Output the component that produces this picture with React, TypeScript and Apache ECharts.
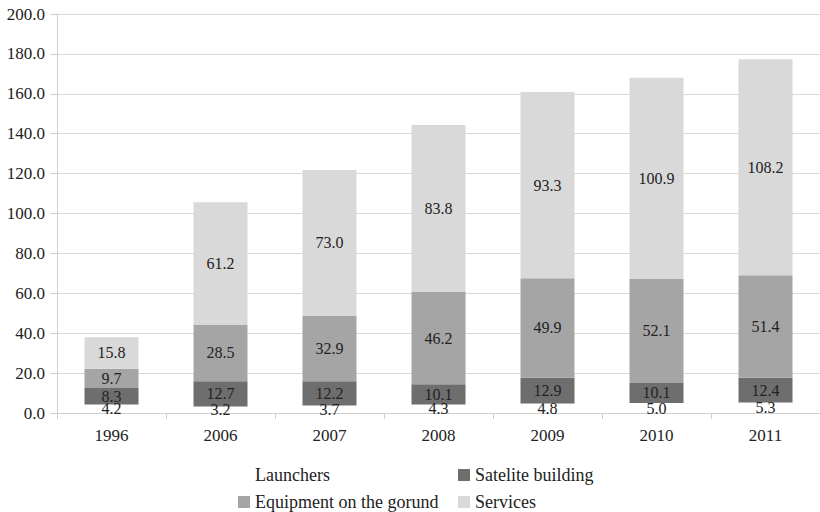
import React, { useEffect, useRef } from "react";
import * as echarts from "echarts";

const years = ["1996", "2006", "2007", "2008", "2009", "2010", "2011"];
const launchers = [4.2, 3.2, 3.7, 4.3, 4.8, 5.0, 5.3];
const sateliteBuilding = [8.3, 12.7, 12.2, 10.1, 12.9, 10.1, 12.4];
const equipmentOnGround = [9.7, 28.5, 32.9, 46.2, 49.9, 52.1, 51.4];
const services = [15.8, 61.2, 73.0, 83.8, 93.3, 100.9, 108.2];

const FONT = "Liberation Serif";

// The thin white "Launchers" segment carries its label a touch lower so it
// sits across the zero line instead of running into the segment above it.
const seriesDefs = [
  { name: "Launchers", data: launchers, color: "#ffffff", labelOffset: [0, 2] },
  { name: "Satelite building", data: sateliteBuilding, color: "#6e6e6e", labelOffset: [0, 0] },
  { name: "Equipment on the gorund", data: equipmentOnGround, color: "#a5a5a5", labelOffset: [0, 0] },
  { name: "Services", data: services, color: "#d9d9d9", labelOffset: [0, 0] },
];

const legendText = { fontFamily: FONT, fontSize: 18, lineHeight: 18, color: "#222" };

const legendBase = {
  orient: "vertical",
  top: 466,
  height: 60,
  padding: 0,
  itemWidth: 12,
  itemHeight: 12,
  itemGap: 9,
  icon: "rect",
  textStyle: legendText,
};

export default function App() {
  const ref = useRef<HTMLDivElement>(null);

  useEffect(() => {
    if (!ref.current) return;
    const chart = echarts.init(ref.current, undefined, { renderer: "svg" });
    chart.setOption({
      animation: false,
      backgroundColor: "#ffffff",
      textStyle: { fontFamily: FONT },
      grid: { left: 57, top: 14, width: 770, height: 399 },
      legend: [
        { ...legendBase, left: 238, data: ["Launchers", "Equipment on the gorund"] },
        { ...legendBase, left: 458, data: ["Satelite building", "Services"] },
      ],
      xAxis: {
        type: "category",
        data: years,
        axisLine: { lineStyle: { color: "#cfcfcf", width: 1 } },
        axisTick: { show: true, length: 6, lineStyle: { color: "#cfcfcf" } },
        axisLabel: { fontFamily: FONT, fontSize: 17, color: "#222", margin: 14 },
      },
      yAxis: {
        type: "value",
        min: 0,
        max: 200,
        interval: 20,
        axisLine: { show: true, lineStyle: { color: "#cfcfcf" } },
        axisTick: { show: true, length: 7, lineStyle: { color: "#cfcfcf" } },
        splitLine: { lineStyle: { color: "#d9d9d9" } },
        axisLabel: {
          fontFamily: FONT,
          fontSize: 17,
          color: "#222",
          margin: 12,
          formatter: (v: number) => v.toFixed(1),
        },
      },
      series: seriesDefs.map((s) => ({
        name: s.name,
        type: "bar",
        stack: "total",
        barWidth: 54,
        data: s.data,
        itemStyle: { color: s.color },
        label: {
          show: true,
          position: "inside",
          offset: s.labelOffset,
          fontFamily: FONT,
          fontSize: 16,
          lineHeight: 12,
          color: "#222",
          formatter: (p: any) => Number(p.value).toFixed(1),
        },
        labelLayout: { hideOverlap: false },
      })),
    });
    return () => chart.dispose();
  }, []);

  return <div ref={ref} style={{ width: 820, height: 512, position: "absolute", left: 0, top: 0 }} />;
}
